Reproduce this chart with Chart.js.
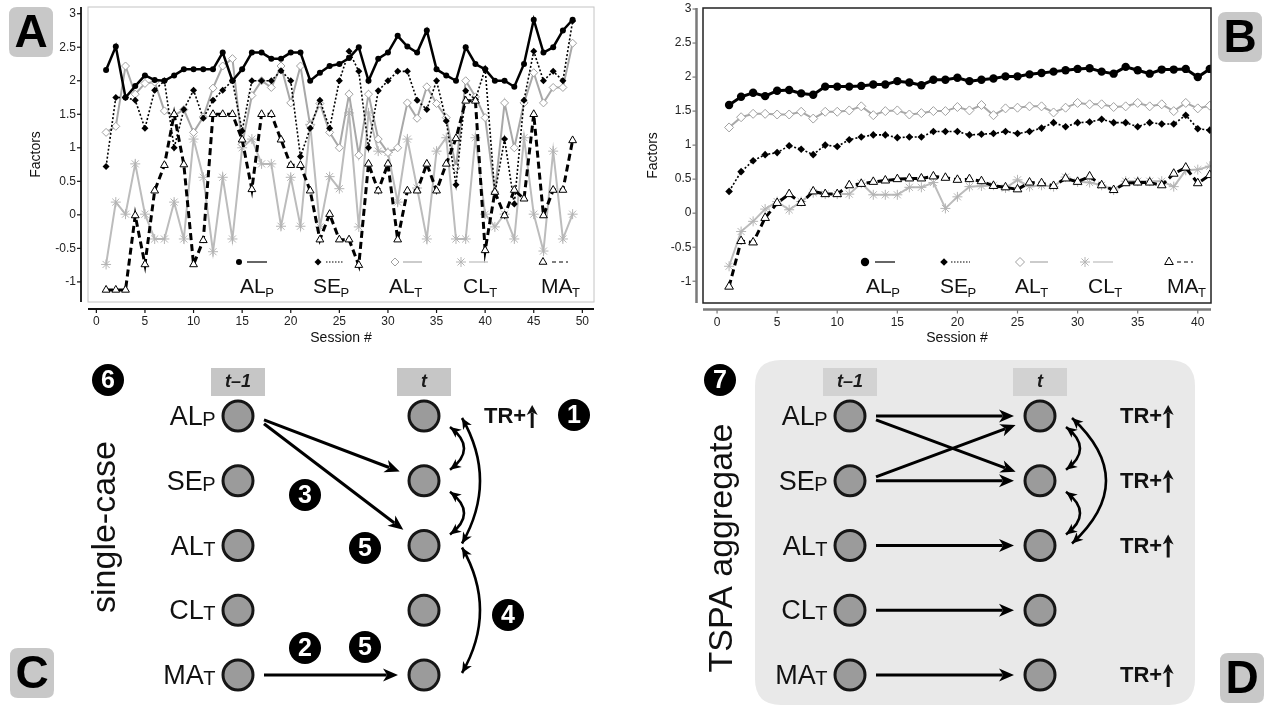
<!DOCTYPE html>
<html><head><meta charset="utf-8">
<script src="https://cdn.jsdelivr.net/npm/chart.js@4.4.0/dist/chart.umd.min.js"></script>
<style>
html,body{margin:0;padding:0;background:#fff;}
body{width:1270px;height:706px;position:relative;overflow:hidden;}
canvas{position:absolute;}
</style></head><body>
<canvas id="cA" width="640" height="355" style="left:0;top:0"></canvas>
<canvas id="cB" width="630" height="355" style="left:640px;top:0"></canvas>
<canvas id="cC" width="640" height="351" style="left:0;top:355px"></canvas>
<canvas id="cD" width="630" height="351" style="left:640px;top:355px"></canvas>
<script>
// ---------------- DATA ----------------
const sessionsA = [1,2,3,4,5,6,7,8,9,10,11,12,13,14,15,16,17,18,19,20,21,22,23,24,25,26,27,28,29,30,31,32,33,34,35,36,37,38,39,40,41,42,43,44,45,46,47,48,49];
const sessionsB = [1,2,3,4,5,6,7,8,9,10,11,12,13,14,15,16,17,18,19,20,21,22,23,24,25,26,27,28,29,30,31,32,33,34,35,36,37,38,39,40,41];
const xTicksA = [0,5,10,15,20,25,30,35,40,45,50];
const xTicksB = [0,5,10,15,20,25,30,35,40];
const yTicks = [-1,-0.5,0,0.5,1,1.5,2,2.5,3];
const seriesNames = [['AL','P'],['SE','P'],['AL','T'],['CL','T'],['MA','T']];

const A_ALP = [2.16,2.51,1.75,1.92,2.08,2.01,2.0,2.08,2.17,2.17,2.17,2.17,2.42,2.0,2.17,2.42,2.42,2.33,2.33,2.42,2.42,2.0,2.12,2.22,2.25,2.34,2.5,2.0,2.33,2.42,2.67,2.51,2.42,2.75,2.17,2.08,2.0,2.5,2.25,2.17,2.0,2.0,1.91,2.25,2.91,2.42,2.5,2.75,2.91];
const A_SEP = [0.72,1.75,1.75,1.71,1.29,1.86,2.0,1.0,1.57,1.86,1.44,1.71,1.86,2.0,1.25,2.0,2.0,2.0,2.15,2.0,0.87,1.29,1.71,1.29,2.0,2.44,2.14,1.0,1.85,2.0,2.14,2.14,1.71,1.57,2.0,1.4,0.45,1.85,1.72,2.18,0.32,1.13,0.16,1.71,2.44,2.0,2.14,2.0,2.89];
const A_ALT = [1.23,1.32,2.22,1.8,1.96,1.98,1.55,1.48,1.57,1.23,1.46,1.89,2.22,2.33,1.05,1.78,2.0,1.9,2.22,1.67,2.22,1.33,1.66,1.23,1.0,1.8,0.89,1.8,1.13,0.93,1.0,1.67,1.44,1.91,1.66,1.45,0.7,2.0,1.76,1.45,0.34,1.67,1.0,1.67,2.12,1.67,1.9,1.9,2.56];
const A_CLT = [-0.74,0.19,0.01,0.76,0.01,-0.36,-0.36,0.19,-0.36,1.13,0.56,-0.55,0.56,-0.36,1.0,1.13,0.76,0.76,-0.17,0.56,-0.17,1.35,-0.18,0.57,0.39,1.52,-0.18,1.52,0.95,0.93,0.19,1.13,0.4,-0.36,0.95,1.15,-0.36,-0.36,1.15,0.01,-0.18,0.01,-0.36,1.15,0.01,-0.54,0.95,-0.36,0.01];
const A_MAT = [-1.12,-1.12,-1.12,-0.01,-0.74,0.36,0.74,1.5,0.75,-0.74,-0.38,1.5,1.5,1.5,1.12,0.38,1.5,1.5,1.12,0.74,0.74,0.36,-0.37,0.01,-0.37,-0.37,-0.75,0.76,0.36,0.76,-0.37,0.36,0.36,0.76,0.36,0.76,1.14,1.7,1.7,-0.53,0.34,-0.01,0.37,0.24,1.5,-0.01,0.37,0.37,1.11];

const B_ALP = [1.59,1.71,1.77,1.72,1.80,1.81,1.76,1.74,1.86,1.86,1.86,1.87,1.89,1.89,1.94,1.92,1.88,1.96,1.96,1.99,1.94,1.96,1.98,2.01,2.01,2.04,2.06,2.08,2.10,2.12,2.13,2.08,2.05,2.15,2.10,2.05,2.11,2.11,2.12,2.0,2.12];
const B_SEP = [0.32,0.61,0.77,0.86,0.89,0.99,0.94,0.86,1.0,0.98,1.08,1.12,1.15,1.15,1.11,1.12,1.12,1.2,1.2,1.2,1.15,1.16,1.17,1.2,1.17,1.2,1.25,1.33,1.27,1.33,1.34,1.38,1.33,1.33,1.27,1.33,1.31,1.31,1.44,1.24,1.22];
const B_ALT = [1.26,1.41,1.46,1.46,1.45,1.45,1.49,1.39,1.49,1.49,1.51,1.57,1.44,1.50,1.51,1.45,1.47,1.50,1.50,1.56,1.51,1.59,1.44,1.54,1.55,1.57,1.57,1.48,1.55,1.62,1.60,1.60,1.56,1.57,1.62,1.57,1.60,1.50,1.62,1.54,1.58];
const B_CLT = [-0.78,-0.27,-0.12,0.06,0.17,0.05,0.17,0.30,0.28,0.28,0.28,0.44,0.27,0.27,0.27,0.38,0.38,0.45,0.07,0.24,0.39,0.40,0.41,0.37,0.49,0.39,0.41,0.39,0.53,0.46,0.45,0.41,0.34,0.47,0.47,0.47,0.47,0.39,0.63,0.64,0.69];
const B_MAT = [-1.08,-0.41,-0.43,-0.07,0.15,0.28,0.15,0.32,0.28,0.28,0.41,0.43,0.46,0.48,0.50,0.51,0.51,0.54,0.52,0.49,0.5,0.47,0.40,0.38,0.35,0.45,0.44,0.40,0.51,0.46,0.54,0.41,0.34,0.44,0.45,0.45,0.41,0.58,0.67,0.44,0.56];

// diagram data (rows: AL_P, SE_P, AL_T, CL_T, MA_T ; columns: t-1, t)
const nodeRows = [0,1,2,3,4];
const nodeCols = [0,1];
const colHeaders = ['t\u20131','t'];
const pathsC = [[0,1],[0,2],[4,4]];
const covC = [[0,1,'s'],[1,2,'s'],[0,2,'l'],[2,4,'l']];
const trRowsC = [0];
const pathsD = [[0,0],[0,1],[1,0],[1,1],[2,2],[3,3],[4,4]];
const covD = [[0,1,'s'],[1,2,'s'],[0,2,'l']];
const trRowsD = [0,1,2,4];

// ---------------- HELPERS ----------------
const FONT = '"Liberation Sans", Arial, Helvetica, sans-serif';

function marker(ctx, style, x, y, r, fill, stroke, lw) {
  ctx.save(); ctx.setLineDash([]); ctx.lineWidth = lw; ctx.fillStyle = fill; ctx.strokeStyle = stroke;
  ctx.beginPath();
  if (style === 'circle') { ctx.arc(x, y, r, 0, Math.PI*2); ctx.fill(); if (lw) ctx.stroke(); }
  else if (style === 'rectRot') { ctx.moveTo(x, y-r); ctx.lineTo(x+r, y); ctx.lineTo(x, y+r); ctx.lineTo(x-r, y); ctx.closePath(); ctx.fill(); if (lw) ctx.stroke(); }
  else if (style === 'triangle') { ctx.moveTo(x, y - r); ctx.lineTo(x + r*0.866, y + r*0.5); ctx.lineTo(x - r*0.866, y + r*0.5); ctx.closePath(); ctx.fill(); if (lw) ctx.stroke(); }
  else if (style === 'star') { for (let k=0;k<4;k++){ const a=k*Math.PI/4; ctx.moveTo(x+Math.cos(a)*r, y+Math.sin(a)*r); ctx.lineTo(x-Math.cos(a)*r, y-Math.sin(a)*r);} ctx.stroke(); }
  ctx.restore();
}

function subText(ctx, main, sub, x, y, fMain, fSub, dy, align) {
  ctx.save();
  ctx.textBaseline = 'alphabetic'; ctx.textAlign = 'left'; ctx.fillStyle = '#111';
  ctx.font = fMain; const w1 = ctx.measureText(main).width;
  ctx.font = fSub; const w2 = ctx.measureText(sub).width;
  let x0 = x; if (align === 'right') x0 = x - w1 - w2;
  ctx.font = fMain; ctx.fillText(main, x0, y);
  ctx.font = fSub; ctx.fillText(sub, x0 + w1 - 0.5, y + dy);
  ctx.restore();
}

function roundRect(ctx, x, y, w, h, r) {
  ctx.beginPath(); ctx.moveTo(x+r, y); ctx.lineTo(x+w-r, y); ctx.quadraticCurveTo(x+w, y, x+w, y+r);
  ctx.lineTo(x+w, y+h-r); ctx.quadraticCurveTo(x+w, y+h, x+w-r, y+h); ctx.lineTo(x+r, y+h);
  ctx.quadraticCurveTo(x, y+h, x, y+h-r); ctx.lineTo(x, y+r); ctx.quadraticCurveTo(x, y, x+r, y); ctx.closePath();
}

function panelLabel(ctx, p) {
  ctx.save(); ctx.fillStyle = '#c8c8c8'; roundRect(ctx, p.x, p.y, 44, 50, 8); ctx.fill();
  ctx.fillStyle = '#000'; ctx.font = 'bold 46px ' + FONT; ctx.textAlign = 'center'; ctx.textBaseline = 'middle';
  ctx.fillText(p.text, p.x + 22, p.y + 27); ctx.restore();
}

function head(ctx, x, y, a, hl, hw) {
  const c = Math.cos(a), s = Math.sin(a);
  ctx.beginPath(); ctx.moveTo(x, y);
  ctx.lineTo(x - hl*c + hw*s, y - hl*s - hw*c);
  ctx.lineTo(x - hl*0.72*c, y - hl*0.72*s);
  ctx.lineTo(x - hl*c - hw*s, y - hl*s + hw*c);
  ctx.closePath(); ctx.fill();
}
function arrow(ctx, x1, y1, x2, y2, lw, hl, hw) {
  const a = Math.atan2(y2-y1, x2-x1);
  ctx.lineWidth = lw; ctx.beginPath(); ctx.moveTo(x1, y1);
  ctx.lineTo(x2 - Math.cos(a)*hl*0.75, y2 - Math.sin(a)*hl*0.75); ctx.stroke();
  head(ctx, x2, y2, a, hl, hw);
}
function dblArc(ctx, x1, y1, x2, y2, bulge, lw, hl, hw) {
  const cx = 2*bulge - (x1+x2)/2, cy = (y1+y2)/2;
  ctx.lineWidth = lw; ctx.beginPath(); ctx.moveTo(x1, y1); ctx.quadraticCurveTo(cx, cy, x2, y2); ctx.stroke();
  head(ctx, x1, y1, Math.atan2(y1-cy, x1-cx), hl, hw);
  head(ctx, x2, y2, Math.atan2(y2-cy, x2-cx), hl, hw);
}
function numCircle(ctx, n, x, y) {
  ctx.save(); ctx.fillStyle = '#000'; ctx.beginPath(); ctx.arc(x, y, 16, 0, Math.PI*2); ctx.fill();
  ctx.fillStyle = '#fff'; ctx.font = 'bold 25px ' + FONT; ctx.textAlign = 'center'; ctx.textBaseline = 'middle';
  ctx.fillText(n, x, y + 1); ctx.restore();
}
function trUp(ctx, x, y) {
  ctx.save(); ctx.fillStyle = '#111'; ctx.strokeStyle = '#111'; ctx.font = 'bold 22px ' + FONT;
  ctx.textAlign = 'left'; ctx.textBaseline = 'middle'; ctx.fillText('TR+', x, y);
  const w = ctx.measureText('TR+').width; const ax = x + w + 6;
  arrow(ctx, ax, y + 11, ax, y - 12, 3, 10, 5.5); ctx.restore();
}

// ---------------- PLOT PLUGIN (axes, box, legend) ----------------
const rPlot = {
  id: 'rPlot',
  afterDraw(chart, args, o) {
    const ctx = chart.ctx, ca = chart.chartArea, xs = chart.scales.x, ys = chart.scales.y;
    ctx.save();
    ctx.setLineDash([]);
    ctx.strokeStyle = o.boxColor; ctx.lineWidth = o.boxWidth;
    ctx.strokeRect(ca.left, ca.top, ca.right - ca.left, ca.bottom - ca.top);
    const axX = ca.left - o.gap, axY = ca.bottom + o.gap;
    ctx.strokeStyle = o.axisColor; ctx.lineWidth = o.axisWidth;
    ctx.beginPath(); ctx.moveTo(axX, ca.top); ctx.lineTo(axX, ca.bottom);
    ctx.moveTo(ca.left, axY); ctx.lineTo(ca.right, axY); ctx.stroke();
    ctx.lineWidth = 1.2; ctx.strokeStyle = o.axisColor;
    ctx.fillStyle = '#222'; ctx.font = '12px ' + FONT;
    ctx.textAlign = 'right'; ctx.textBaseline = 'middle';
    o.yTicks.forEach(v => { const y = ys.getPixelForValue(v);
      ctx.beginPath(); ctx.moveTo(axX - 4, y); ctx.lineTo(axX, y); ctx.stroke();
      ctx.fillText(String(v), axX - 5, y); });
    ctx.textAlign = 'center'; ctx.textBaseline = 'middle';
    o.xTicks.forEach(v => { const x = xs.getPixelForValue(v);
      ctx.beginPath(); ctx.moveTo(x, axY); ctx.lineTo(x, axY + 4); ctx.stroke();
      ctx.fillText(String(v), x, axY + 13); });
    ctx.font = '14px ' + FONT; ctx.fillStyle = '#111';
    ctx.fillText(o.xTitle, (ca.left + ca.right)/2, axY + 29);
    ctx.save(); ctx.translate(o.yTitleX, (ca.top + ca.bottom)/2); ctx.rotate(-Math.PI/2);
    ctx.fillText(o.yTitle, 0, 0); ctx.restore();
    chart.data.datasets.forEach((ds, i) => {
      const L = o.legend[i];
      ctx.save(); ctx.strokeStyle = ds.borderColor; ctx.lineWidth = 1.2; ctx.setLineDash(ds.legendDash || []);
      ctx.beginPath(); ctx.moveTo(L.l1, o.legendY); ctx.lineTo(L.l2, o.legendY); ctx.stroke(); ctx.restore();
      marker(ctx, ds.pointStyle, L.m, o.legendY, ds.pointRadius, ds.pointBackgroundColor, ds.pointBorderColor, ds.pointBorderWidth);
      subText(ctx, seriesNames[i][0], seriesNames[i][1], L.t, o.labelY, '21px ' + FONT, '13px ' + FONT, 4, 'left');
    });
    panelLabel(ctx, o.panel);
    ctx.restore();
  }
};

function makeDatasets(sess, arrs, big) {
  const pts = (arr) => sess.map((s, i) => ({x: s, y: arr[i]}));
  return [
    {label:'AL_P', data: pts(arrs[0]), order:0, borderColor:'#000', borderWidth: big?3:2.5, pointStyle:'circle', pointRadius: big?4.2:3, pointBackgroundColor:'#000', pointBorderColor:'#000', pointBorderWidth:0},
    {label:'SE_P', data: pts(arrs[1]), order:2, borderColor:'#000', borderWidth:1.6, borderDash:[2,2], legendDash:[1.5,1.5], pointStyle:'rectRot', pointRadius: big?3.8:3.5, pointBackgroundColor:'#000', pointBorderColor:'#000', pointBorderWidth:0},
    {label:'AL_T', data: pts(arrs[2]), order:3, borderColor:'#a8a8a8', borderWidth:2, pointStyle:'rectRot', pointRadius: big?4.5:4, pointBackgroundColor:'#fff', pointBorderColor:'#a0a0a0', pointBorderWidth:1},
    {label:'CL_T', data: pts(arrs[3]), order:4, borderColor:'#bcbcbc', borderWidth:2, pointStyle:'star', pointRadius: 5, pointBackgroundColor:'#bcbcbc', pointBorderColor:'#b4b4b4', pointBorderWidth:1},
    {label:'MA_T', data: pts(arrs[4]), order:1, borderColor:'#000', borderWidth:3, borderDash:[7,4], legendDash:[4,3], pointStyle:'triangle', pointRadius: big?5:4.5, pointBackgroundColor:'#fff', pointBorderColor:'#000', pointBorderWidth:1}
  ];
}

function lineChart(id, sess, arrs, big, xr, yr, pad, popts) {
  return new Chart(document.getElementById(id), {
    type: 'line',
    data: { datasets: makeDatasets(sess, arrs, big) },
    options: {
      responsive:false, animation:false, devicePixelRatio:1,
      layout:{padding:pad},
      elements:{line:{tension:0}},
      plugins:{legend:{display:false}, tooltip:{enabled:false}, rPlot: popts},
      scales:{
        x:{type:'linear', min:xr[0], max:xr[1], display:false},
        y:{type:'linear', min:yr[0], max:yr[1], display:false}
      }
    },
    plugins:[rPlot]
  });
}

lineChart('cA', sessionsA, [A_ALP, A_SEP, A_ALT, A_CLT, A_MAT], false, [-0.86, 51.2], [-1.30, 3.10],
  {left:88, right:46, top:7, bottom:53},
  {gap:7, boxColor:'#c4c4c4', boxWidth:1, axisColor:'#111', axisWidth:1.8, xTicks:xTicksA, yTicks:yTicks,
   xTitle:'Session #', yTitle:'Factors', yTitleX:36,
   legendY:262, labelY:293,
   legend:[{m:239,l1:247,l2:267,t:240},{m:318,l1:326,l2:344,t:313},{m:395,l1:403,l2:422,t:389},{m:461,l1:469,l2:488,t:463},{m:543,l1:552,l2:568,t:541}],
   panel:{text:'A', x:9, y:7}});

lineChart('cB', sessionsB, [B_ALP, B_SEP, B_ALT, B_CLT, B_MAT], true, [-1.17, 41.1], [-1.32, 3.015],
  {left:63, right:59, top:8, bottom:52},
  {gap:6.5, boxColor:'#222', boxWidth:1.5, axisColor:'#7a7a7a', axisWidth:2.5, xTicks:xTicksB, yTicks:yTicks,
   xTitle:'Session #', yTitle:'Factors', yTitleX:13,
   legendY:262, labelY:293,
   legend:[{m:225,l1:235,l2:255,t:226},{m:304,l1:311,l2:330,t:300},{m:380,l1:390,l2:408,t:375},{m:445,l1:453,l2:473,t:448},{m:529,l1:537,l2:553,t:527}],
   panel:{text:'B', x:578, y:12}});

// ---------------- DIAGRAM PLUGIN ----------------
const diagram = {
  id: 'diagram',
  beforeDraw(chart, args, o) {
    const ctx = chart.ctx;
    if (o.bg) { ctx.save(); ctx.fillStyle = '#e9e9e9'; roundRect(ctx, o.bg[0], o.bg[1], o.bg[2], o.bg[3], 26); ctx.fill(); ctx.restore(); }
  },
  beforeDatasetsDraw(chart, args, o) {
    const ctx = chart.ctx, X = c => chart.scales.x.getPixelForValue(c), Y = r => chart.scales.y.getPixelForValue(r);
    ctx.save(); ctx.strokeStyle = '#000'; ctx.fillStyle = '#000'; ctx.lineCap = 'butt';
    nodeCols.forEach((c, i) => {
      const cx = X(c); ctx.fillStyle = o.headerFill; ctx.fillRect(cx - 27, o.headerY, 54, 28);
      ctx.fillStyle = '#1a1a1a'; ctx.font = 'italic bold 18px ' + FONT; ctx.textAlign = 'center'; ctx.textBaseline = 'middle';
      ctx.fillText(colHeaders[i], cx, o.headerY + 14);
    });
    ctx.fillStyle = '#000';
    o.paths.forEach(([a, b]) => {
      const sx = X(0) + 26, sy = Y(a) + 0.06*(Y(b) - Y(a));
      const tx = X(1), ty = Y(b);
      const d = Math.hypot(tx - sx, ty - sy), ux = (tx - sx)/d, uy = (ty - sy)/d;
      arrow(ctx, sx, sy, tx - ux*26, ty - uy*26, 3, 15, 6.5);
    });
    o.cov.forEach(([a, b, k]) => {
      const x0 = X(1);
      if (k === 's') dblArc(ctx, x0 + 26, Y(a) + 11, x0 + 26, Y(b) - 11, x0 + 40, 2.6, 11, 5);
      else dblArc(ctx, x0 + o.longEnd, Y(a) + 2, x0 + o.longEnd, Y(b) - 2, x0 + o.longBulge, 2.6, 11, 5);
    });
    ctx.restore();
  },
  afterDraw(chart, args, o) {
    const ctx = chart.ctx, X = c => chart.scales.x.getPixelForValue(c), Y = r => chart.scales.y.getPixelForValue(r);
    ctx.save();
    nodeRows.forEach(r => subText(ctx, seriesNames[r][0], seriesNames[r][1], X(0) - 22, Y(r) + 9, '27px ' + FONT, '20px ' + FONT, 1, 'right'));
    o.tr.forEach(r => trUp(ctx, o.trX, Y(r) + 1));
    o.nums.forEach(n => numCircle(ctx, n[0], n[1], n[2]));
    ctx.save(); ctx.translate(o.side[1], o.side[2]); ctx.rotate(-Math.PI/2);
    ctx.fillStyle = '#111'; ctx.font = '34px ' + FONT; ctx.textAlign = 'center'; ctx.textBaseline = 'middle';
    ctx.fillText(o.side[0], 0, 0); ctx.restore();
    panelLabel(ctx, o.panel);
    ctx.restore();
  }
};

function diagramChart(id, pad, popts) {
  const nodes = c => nodeRows.map(r => ({x: c, y: r}));
  return new Chart(document.getElementById(id), {
    type: 'scatter',
    data: { datasets: nodeCols.map(c => ({ data: nodes(c), pointRadius: 15, pointBackgroundColor: '#9b9b9b', pointBorderColor: '#161616', pointBorderWidth: 3, clip: false })) },
    options: {
      responsive:false, animation:false, devicePixelRatio:1,
      layout:{padding:pad},
      plugins:{legend:{display:false}, tooltip:{enabled:false}, diagram: popts},
      scales:{ x:{type:'linear', min:0, max:1, display:false}, y:{type:'linear', min:0, max:4, reverse:true, display:false} }
    },
    plugins:[diagram]
  });
}

diagramChart('cC', {left:238, right:216, top:61, bottom:31},
  {paths: pathsC, cov: covC, tr: trRowsC, trX: 484, headerY: 13, headerFill:'#c6c6c6', longEnd: 38, longBulge: 56,
   nums: [['6',108,25],['1',574,60],['3',305,140],['5',365,193],['2',305,293],['5',365,292],['4',508,260]],
   side: ['single-case', 106, 172], panel:{text:'C', x:10, y:293}});

diagramChart('cD', {left:210, right:230, top:61, bottom:31},
  {bg:[115, 5, 440, 345], paths: pathsD, cov: covD, tr: trRowsD, trX: 480, headerY: 13, headerFill:'#d2d2d2', longEnd: 32, longBulge: 66,
   nums: [['7',80,25]],
   side: ['TSPA aggregate', 83, 193], panel:{text:'D', x:580, y:298}});
</script>
</body></html>
